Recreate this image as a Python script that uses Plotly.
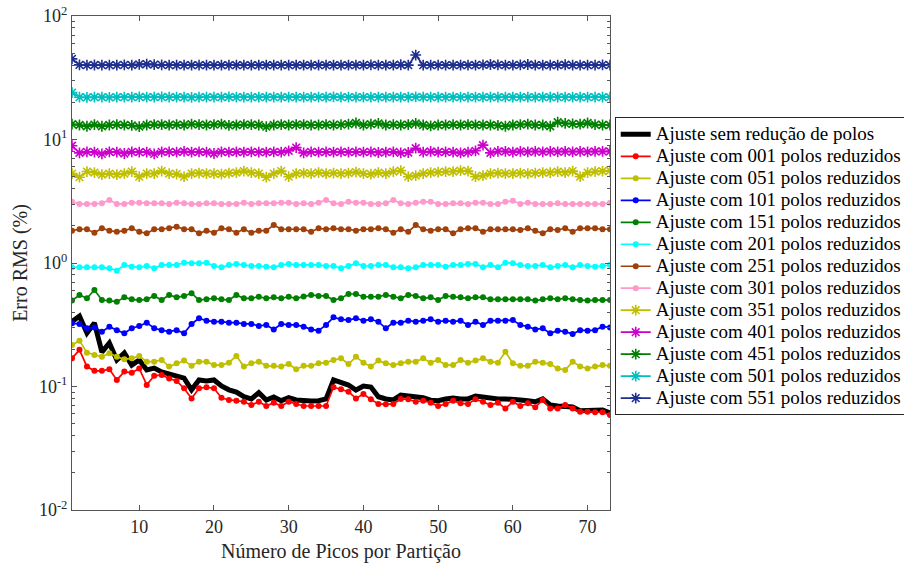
import plotly.graph_objects as go

# Number of peaks per partition (x axis)
picos = list(range(1, 74))

# RMS error (%) for the fit without pole reduction
erro_sem_reducao = [
    0.335, 0.372, 0.271, 0.327, 0.190, 0.225, 0.164, 0.187, 0.149, 0.164,
    0.136, 0.141, 0.131, 0.126, 0.124, 0.117, 0.094, 0.113, 0.111, 0.113,
    0.101, 0.094, 0.090, 0.0826, 0.0793, 0.0891, 0.0778, 0.0822, 0.0768, 0.0811,
    0.0778, 0.0763, 0.0763, 0.0768, 0.0793, 0.113, 0.1087, 0.1028, 0.0937, 0.1009,
    0.099, 0.0826, 0.0793, 0.0778, 0.0853, 0.0838, 0.0807, 0.0811, 0.0775, 0.0768,
    0.0793, 0.0807, 0.0793, 0.0793, 0.0838, 0.0822, 0.0793, 0.0793, 0.0793, 0.0793,
    0.0778, 0.0768, 0.0753, 0.0793, 0.0708, 0.0695, 0.0695, 0.0683, 0.0637, 0.0637,
    0.0645, 0.0645, 0.061,
]

erro_001 = [
    0.169, 0.198, 0.145, 0.134, 0.134, 0.138, 0.113, 0.132, 0.129, 0.140,
    0.103, 0.122, 0.124, 0.116, 0.111, 0.0967, 0.080, 0.0967, 0.0986, 0.0967,
    0.081, 0.0778, 0.0768, 0.0753, 0.0708, 0.0753, 0.0695, 0.0740, 0.0695, 0.0753,
    0.0722, 0.0695, 0.0695, 0.0695, 0.0695, 0.0986, 0.0948, 0.0907, 0.080, 0.0869,
    0.0787, 0.0722, 0.0717, 0.0722, 0.0793, 0.0787, 0.0753, 0.0768, 0.0740, 0.0695,
    0.0722, 0.0768, 0.0731, 0.0722, 0.0787, 0.0753, 0.0708, 0.0740, 0.0665, 0.0753,
    0.0695, 0.0731, 0.0679, 0.0778, 0.0665, 0.0665, 0.0708, 0.0665, 0.0625, 0.0625,
    0.0618, 0.0618, 0.0587,
]

erro_051 = [
    0.217, 0.235, 0.188, 0.180, 0.174, 0.186, 0.174, 0.166, 0.169, 0.177,
    0.159, 0.159, 0.164, 0.145, 0.154, 0.162, 0.147, 0.159, 0.159, 0.149,
    0.149, 0.156, 0.177, 0.145, 0.154, 0.159, 0.147, 0.147, 0.145, 0.152,
    0.138, 0.147, 0.147, 0.154, 0.156, 0.164, 0.169, 0.152, 0.174, 0.156,
    0.145, 0.162, 0.154, 0.149, 0.154, 0.159, 0.159, 0.169, 0.156, 0.164,
    0.149, 0.149, 0.164, 0.156, 0.162, 0.169, 0.159, 0.156, 0.191, 0.154,
    0.147, 0.147, 0.159, 0.156, 0.152, 0.140, 0.136, 0.159, 0.145, 0.140,
    0.145, 0.149, 0.147,
]

erro_101 = [
    0.325, 0.321, 0.296, 0.301, 0.278, 0.305, 0.286, 0.270, 0.296, 0.309,
    0.329, 0.296, 0.286, 0.278, 0.286, 0.270, 0.321, 0.357, 0.341, 0.335,
    0.335, 0.329, 0.329, 0.321, 0.321, 0.309, 0.315, 0.290, 0.321, 0.315,
    0.315, 0.305, 0.290, 0.283, 0.315, 0.363, 0.350, 0.345, 0.357, 0.341,
    0.350, 0.335, 0.296, 0.329, 0.329, 0.341, 0.335, 0.341, 0.350, 0.335,
    0.341, 0.335, 0.341, 0.315, 0.335, 0.315, 0.341, 0.341, 0.341, 0.345,
    0.315, 0.305, 0.290, 0.296, 0.270, 0.283, 0.278, 0.266, 0.286, 0.283,
    0.286, 0.305, 0.301,
]

erro_151 = [
    0.496, 0.551, 0.518, 0.604, 0.501, 0.496, 0.486, 0.527, 0.508, 0.501,
    0.508, 0.541, 0.501, 0.551, 0.527, 0.541, 0.569, 0.501, 0.508, 0.518,
    0.508, 0.501, 0.551, 0.518, 0.518, 0.533, 0.518, 0.527, 0.518, 0.533,
    0.518, 0.535, 0.551, 0.541, 0.541, 0.501, 0.518, 0.561, 0.561, 0.533,
    0.533, 0.533, 0.551, 0.533, 0.518, 0.551, 0.541, 0.518, 0.527, 0.501,
    0.541, 0.533, 0.527, 0.518, 0.527, 0.527, 0.508, 0.508, 0.508, 0.508,
    0.508, 0.508, 0.496, 0.508, 0.518, 0.508, 0.518, 0.508, 0.501, 0.496,
    0.501, 0.501, 0.501,
]

erro_201 = [
    0.923, 0.923, 0.923, 0.923, 0.923, 0.906, 0.867, 0.964, 0.933, 0.923,
    0.946, 0.906, 0.964, 0.964, 0.964, 1.006, 0.994, 0.994, 1.006, 0.946,
    0.923, 0.964, 0.982, 0.964, 0.946, 0.946, 0.933, 0.923, 0.964, 0.982,
    0.964, 0.964, 0.964, 0.964, 0.946, 0.946, 0.906, 0.946, 0.994, 0.946,
    0.946, 0.964, 0.964, 0.923, 0.923, 0.906, 0.923, 0.964, 0.964, 0.964,
    0.933, 0.964, 0.964, 0.982, 0.982, 0.923, 0.964, 0.923, 1.006, 0.994,
    0.964, 0.946, 0.946, 0.964, 0.923, 0.946, 0.964, 0.923, 0.964, 0.946,
    0.933, 0.946, 0.964,
]

erro_251 = [
    1.827, 1.876, 1.876, 1.76, 1.91, 1.827, 1.79, 1.827, 1.91, 1.79,
    1.74, 1.876, 1.876, 1.91, 1.97, 1.876, 1.876, 1.74, 1.827, 1.76,
    1.91, 1.876, 1.76, 1.876, 1.76, 1.827, 1.827, 2.03, 1.876, 1.876,
    1.876, 1.876, 1.79, 1.91, 1.876, 1.91, 1.876, 1.876, 1.827, 1.876,
    1.876, 1.91, 1.876, 1.76, 1.876, 1.79, 2.03, 1.876, 1.827, 1.876,
    1.876, 1.74, 1.876, 1.91, 1.91, 1.79, 1.876, 1.876, 1.876, 1.876,
    1.85, 1.91, 1.827, 1.74, 1.876, 1.85, 1.91, 1.79, 1.91, 1.91,
    1.91, 1.876, 1.876,
]

erro_301 = [
    3.13, 3.01, 3.01, 3.01, 3.04, 3.24, 3.01, 3.01, 3.08, 3.08,
    3.04, 3.04, 3.04, 3.01, 3.08, 3.04, 3.01, 3.01, 3.04, 3.04,
    3.01, 3.01, 3.01, 3.08, 3.01, 3.04, 3.04, 3.04, 3.08, 3.08,
    3.01, 3.04, 3.01, 3.08, 3.24, 3.04, 3.01, 3.13, 3.08, 3.08,
    3.01, 3.01, 3.04, 3.24, 3.04, 3.01, 3.08, 3.13, 3.13, 3.01,
    3.01, 3.04, 3.04, 3.01, 3.08, 3.08, 3.01, 3.01, 3.13, 3.19,
    3.01, 3.08, 3.01, 3.01, 3.01, 3.04, 3.01, 3.01, 3.01, 3.01,
    3.01, 3.01, 3.08,
]

erro_351 = [
    5.3, 4.95, 5.5, 5.4, 5.2, 5.3, 5.2, 5.3, 5.5, 5.0,
    5.3, 5.3, 5.55, 5.3, 5.25, 5.0, 5.3, 5.35, 5.3, 5.3,
    5.25, 5.35, 5.4, 5.55, 5.4, 5.3, 4.95, 5.3, 5.55, 5.0,
    5.3, 5.35, 5.3, 5.4, 5.3, 5.35, 5.3, 5.35, 5.45, 5.3,
    5.25, 5.4, 5.3, 5.5, 5.6, 5.0, 5.1, 5.3, 5.4, 5.45,
    5.5, 5.5, 5.6, 5.55, 5.0, 5.1, 5.3, 5.35, 5.3, 5.3,
    5.35, 5.3, 5.35, 5.4, 5.4, 5.5, 5.4, 5.55, 5.0, 5.4,
    5.5, 5.55, 5.6,
]

erro_401 = [
    8.9, 7.8, 7.95, 7.9, 7.65, 7.95, 7.9, 7.7, 7.95, 7.9,
    7.9, 7.65, 7.95, 7.95, 7.9, 8.0, 7.9, 7.95, 7.9, 7.7,
    7.95, 7.9, 7.95, 7.9, 7.95, 7.9, 7.9, 7.95, 7.9, 8.1,
    8.6, 7.8, 7.95, 7.9, 7.95, 7.9, 7.95, 7.9, 7.95, 7.9,
    7.95, 7.85, 7.9, 7.95, 7.8, 7.85, 8.5, 7.9, 8.0, 7.9,
    7.95, 7.9, 7.8, 7.9, 8.1, 9.0, 7.8, 8.0, 8.0, 7.9,
    8.0, 7.95, 8.0, 7.95, 8.0, 7.95, 8.0, 7.95, 8.0, 7.95,
    8.0, 8.0, 8.0,
]

erro_451 = [
    13.3, 13.1, 12.8, 13.2, 12.8, 13.1, 13.2, 13.1, 13.0, 12.7,
    13.1, 13.2, 13.2, 13.1, 13.2, 13.1, 13.3, 13.2, 13.1, 13.2,
    13.3, 13.0, 13.1, 13.2, 13.2, 13.1, 12.7, 13.1, 13.2, 13.1,
    13.2, 13.2, 13.1, 13.1, 13.2, 13.1, 13.2, 13.3, 13.6, 13.1,
    13.3, 13.5, 13.1, 13.2, 13.1, 13.2, 13.5, 13.1, 12.9, 13.1,
    13.1, 13.2, 13.1, 13.2, 13.1, 13.1, 13.1, 13.0, 12.8, 13.1,
    13.2, 13.3, 13.1, 13.1, 12.8, 13.8, 13.5, 13.4, 13.3, 13.6,
    13.2, 13.1, 13.1,
]

erro_501 = [
    24.0, 22.0, 21.9, 22.0, 22.0, 21.9, 22.0, 22.0, 22.0, 22.1,
    22.0, 22.0, 22.1, 22.0, 22.0, 22.0, 21.9, 22.0, 22.0, 22.0,
    22.0, 22.1, 22.0, 22.0, 22.0, 22.0, 22.0, 22.0, 22.0, 22.0,
    22.0, 22.0, 22.0, 22.0, 22.0, 22.1, 22.0, 22.0, 22.0, 22.0,
    22.0, 22.0, 22.0, 22.0, 22.0, 22.0, 22.1, 22.0, 22.0, 22.0,
    22.0, 22.0, 22.0, 22.0, 22.0, 22.0, 22.0, 22.0, 22.0, 22.0,
    22.0, 22.0, 22.0, 22.0, 22.0, 22.0, 22.0, 22.0, 22.0, 22.0,
    22.0, 22.0, 22.0,
]

erro_551 = [
    45.0, 40.2, 40.0, 40.1, 40.0, 40.0, 40.0, 40.2, 40.0, 40.6,
    40.8, 40.4, 40.2, 40.0, 40.0, 40.0, 40.0, 40.0, 40.0, 40.0,
    40.0, 40.0, 40.0, 40.0, 40.0, 40.0, 40.0, 40.0, 40.0, 40.0,
    40.0, 40.0, 40.0, 40.0, 40.0, 40.0, 40.0, 40.0, 40.0, 40.0,
    40.2, 40.0, 40.0, 40.0, 40.3, 40.0, 48.3, 40.0, 40.0, 40.0,
    40.0, 40.0, 40.0, 40.0, 40.0, 40.2, 40.5, 40.2, 40.0, 40.0,
    40.2, 40.5, 40.0, 40.0, 40.0, 40.0, 40.3, 40.0, 40.0, 40.0,
    40.0, 40.2, 40.0,
]

nomes = [
    "Ajuste sem redução de polos",
    "Ajuste com 001 polos reduzidos",
    "Ajuste com 051 polos reduzidos",
    "Ajuste com 101 polos reduzidos",
    "Ajuste com 151 polos reduzidos",
    "Ajuste com 201 polos reduzidos",
    "Ajuste com 251 polos reduzidos",
    "Ajuste com 301 polos reduzidos",
    "Ajuste com 351 polos reduzidos",
    "Ajuste com 401 polos reduzidos",
    "Ajuste com 451 polos reduzidos",
    "Ajuste com 501 polos reduzidos",
    "Ajuste com 551 polos reduzidos",
]

cores = [
    "#000000", "#FF0000", "#BFBF00", "#0000FF", "#008000", "#00FFFF",
    "#A0400A", "#FF99CC", "#BFBF00", "#CC00CC", "#008000", "#00BFBF", "#1F2F8F",
]

y_tickvals = [0.01, 0.1, 1, 10, 100]
y_ticktext = ["10<sup>-2</sup>", "10<sup>-1</sup>", "10<sup>0</sup>",
              "10<sup>1</sup>", "10<sup>2</sup>"]
x_tickvals = [10, 20, 30, 40, 50, 60, 70]
y_minor = [m * 10.0 ** e for e in (-2, -1, 0, 1) for m in range(2, 10)]

series = [erro_sem_reducao, erro_001, erro_051, erro_101, erro_151, erro_201,
          erro_251, erro_301, erro_351, erro_401, erro_451, erro_501, erro_551]

# legend rows are spaced from the legend font size; the label text itself
# is drawn larger through an inline span
def rotulo(texto):
    return '<span style="font-size:19px">' + texto + "</span>"

fig = go.Figure()
for k, (nome, cor, valores) in enumerate(zip(nomes, cores, series)):
    if k == 0:
        fig.add_trace(go.Scatter(
            x=picos, y=valores, name=rotulo(nome), mode="lines",
            line=dict(color=cor, width=5),
        ))
    elif k <= 7:
        fig.add_trace(go.Scatter(
            x=picos, y=valores, name=rotulo(nome), mode="lines+markers",
            line=dict(color=cor, width=1.7),
            marker=dict(symbol="circle", size=6, color=cor),
        ))
    else:
        fig.add_trace(go.Scatter(
            x=picos, y=valores, name=rotulo(nome), mode="lines+markers",
            line=dict(color=cor, width=1.7),
            marker=dict(symbol="asterisk-open", size=9,
                        line=dict(color=cor, width=1.6)),
        ))

fonte = "Liberation Serif"
fig.update_layout(
    width=904, height=567,
    margin=dict(l=72, r=294, t=16, b=57, autoexpand=False),
    paper_bgcolor="white", plot_bgcolor="white",
    font=dict(family=fonte, color="#262626"),
    showlegend=True,
    legend=dict(
        xref="container", yref="container",
        x=0.68, xanchor="left", y=0.793, yanchor="top",
        maxheight=440,
        bgcolor="white", bordercolor="#262626", borderwidth=1,
        font=dict(family=fonte, size=14.6, color="#000000"),
        tracegroupgap=0, itemwidth=30,
    ),
    xaxis=dict(
        range=[1, 73], tickvals=x_tickvals,
        ticks="inside", ticklen=5, tickcolor="#555555",
        showline=True, linecolor="#555555", linewidth=1, mirror="allticks",
        showgrid=False, zeroline=False,
        tickfont=dict(family=fonte, size=18, color="#262626"),
        title=dict(text="Número de Picos por Partição",
                   font=dict(family=fonte, size=20, color="#262626"), standoff=8),
    ),
    yaxis=dict(
        type="log", range=[-2, 2],
        tickmode="array", tickvals=y_tickvals, ticktext=y_ticktext,
        ticks="inside", ticklen=5, tickcolor="#555555",
        showline=True, linecolor="#555555", linewidth=1, mirror="allticks",
        showgrid=False, zeroline=False,
        tickfont=dict(family=fonte, size=18, color="#262626"),
        minor=dict(tickmode="array", tickvals=y_minor, ticks="inside",
                   ticklen=3, tickcolor="#555555", showgrid=False),
        title=dict(text="Erro RMS (%)",
                   font=dict(family=fonte, size=20, color="#262626"), standoff=5),
    ),
)

fig.write_html("out.html")
